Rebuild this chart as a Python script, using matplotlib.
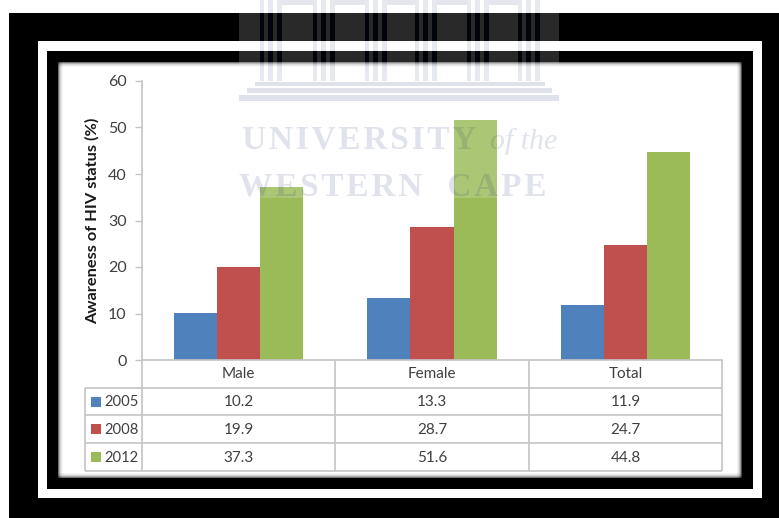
import matplotlib
matplotlib.use("Agg")
import matplotlib.pyplot as plt
import numpy as np
from matplotlib.patches import Rectangle

plt.rcParams['font.family'] = ['Lato', 'DejaVu Sans']

categories = ["Male", "Female", "Total"]
years = ["2005", "2008", "2012"]
values_2005 = [10.2, 13.3, 11.9]
values_2008 = [19.9, 28.7, 24.7]
values_2012 = [37.3, 51.6, 44.8]
y_ticks = [0, 10, 20, 30, 40, 50, 60]
y_label = "Awareness of HIV status (%)"
watermark_lines = ["UNIVERSITY", "WESTERN  CAPE"]
watermark_tail = "of the"

series = [values_2005, values_2008, values_2012]
colors = ["#4f81bd", "#c0504d", "#9bbb59"]
TEXT = "#404040"
GRID = "#c4c4c4"
W, H = 779, 518

fig = plt.figure(figsize=(W / 100, H / 100), dpi=100, facecolor="white")


def pixel_axes(z):
    """Full-figure axes addressed in image pixels, y growing downward."""
    a = fig.add_axes([0, 0, 1, 1], zorder=z)
    a.set_xlim(0, W)
    a.set_ylim(H, 0)
    a.axis("off")
    a.patch.set_alpha(0)
    return a


def box(a, x0, y0, x1, y1, **kw):
    kw.setdefault("linewidth", 0)
    a.add_patch(Rectangle((x0, y0), x1 - x0, y1 - y0, **kw))


def tracked(s):
    """Open up the letter spacing with hair spaces."""
    return "\u200a".join(s)


# Nested picture frame with a soft inner shadow
bg = pixel_axes(0)
box(bg, 9, 13, 779, 518, facecolor="black")
box(bg, 38, 41, 762, 498, facecolor="white")
box(bg, 47, 51, 753, 489, facecolor="black")
box(bg, 58, 62, 742, 478, facecolor="white")
x0, y0, x1, y1 = 58, 62, 742, 478
for i, a_ in enumerate([0.55, 0.32, 0.17, 0.09, 0.04]):
    box(bg, x0 + i, y0, x0 + i + 1, y1, facecolor="black", alpha=a_)
    box(bg, x1 - i - 1, y0, x1 - i, y1, facecolor="black", alpha=min(a_ * 1.25, 1))
    box(bg, x0, y0 + i, x1, y0 + i + 1, facecolor="black", alpha=a_)
    box(bg, x0, y1 - i - 1, x1, y1 - i, facecolor="black", alpha=a_)

# Bars on a value axis
ax = fig.add_axes([142 / W, 1 - 360 / H, 580 / W, 279 / H], zorder=1)
ax.patch.set_alpha(0)
pos = np.arange(len(categories)) + 0.5
bar_w = 0.2225
for i, (vals, col) in enumerate(zip(series, colors)):
    ax.bar(pos + (i - 1) * bar_w, vals, bar_w, color=col, linewidth=0)
ax.set_xlim(0, len(categories))
ax.set_ylim(0, 60)
ax.set_yticks(y_ticks)
ax.set_xticks([])
for s in ("top", "right"):
    ax.spines[s].set_visible(False)
for s in ("left", "bottom"):
    ax.spines[s].set_color(GRID)
    ax.spines[s].set_linewidth(1.2)
ax.tick_params(axis="y", length=5, width=1, color=GRID, labelcolor=TEXT, labelsize=11.5, pad=6)
ax.set_ylabel(y_label, fontsize=11.8, fontweight="bold", color="#1a1a1a", labelpad=6)

# Data table below the axis
fg = pixel_axes(2)
col_x = [142, 335.5, 529, 722]
row_y = [360, 388, 415, 443, 471]
lw = 1.2
for x in col_x:
    fg.plot([x, x], [row_y[0], row_y[-1]], color=GRID, lw=lw, solid_capstyle="butt")
fg.plot([85.5, 85.5], [row_y[1], row_y[-1]], color=GRID, lw=lw, solid_capstyle="butt")
for y in row_y[1:]:
    fg.plot([85.5, col_x[-1]], [y, y], color=GRID, lw=lw, solid_capstyle="butt")
for c, name in enumerate(categories):
    xc = (col_x[c] + col_x[c + 1]) / 2
    fg.text(xc, (row_y[0] + row_y[1]) / 2 - 0.5, name, ha="center", va="center",
            fontsize=11, color=TEXT)
    for r, vals in enumerate(series):
        fg.text(xc, (row_y[r + 1] + row_y[r + 2]) / 2 + 0.5, f"{vals[c]:.1f}", ha="center",
                va="center", fontsize=11, color=TEXT)
for r, (yr, col) in enumerate(zip(years, colors)):
    yc = (row_y[r + 1] + row_y[r + 2]) / 2
    box(fg, 91.5, yc - 5, 101.5, yc + 5, facecolor=col)
    fg.text(104, yc + 0.5, yr, ha="left", va="center", fontsize=10.6, color=TEXT)

# Translucent crest laid over the top of the page
INK = "#1a2a6e"
INK_A = 0.17
VEIL_A = 0.165
mark_x0, mark_x1, mark_y1 = 239, 559, 198
strokes = []
for left in (260, 313, 365, 415, 467, 518):
    strokes += [(left, left + 4), (left + 8, left + 13), (left + 17, left + 22)]
edges = [mark_x0]
for a_, b_ in strokes:
    edges += [a_, b_]
edges.append(mark_x1)
# the veil skips the column strokes so that they read dark over the black frame
for a_, b_ in zip(edges[0::2], edges[1::2]):
    box(fg, a_, 0, b_, 82, facecolor="white", alpha=VEIL_A, antialiased=False)
box(fg, mark_x0, 82, mark_x1, mark_y1, facecolor="white", alpha=VEIL_A, antialiased=False)
for a_, b_ in strokes:
    box(fg, a_, 0, b_, 81, facecolor=INK, alpha=INK_A * 0.6, antialiased=False)
for a_, b_ in zip(strokes[2::3], strokes[3::3]):
    box(fg, a_[1], 0, b_[0], 5, facecolor=INK, alpha=INK_A * 0.7)
for sx0, sx1, sy0, sy1 in [(255, 545, 82, 86), (247, 552, 88, 93), (239, 559, 95, 101)]:
    box(fg, sx0, sy0, sx1, sy1, facecolor=INK, alpha=INK_A * 0.8)
fg.text(242, 140, tracked(watermark_lines[0]), family=["Liberation Serif", "DejaVu Serif"], fontweight="bold",
        fontsize=24, color=INK, alpha=0.13, ha="left", va="center")
fg.text(490, 142, watermark_tail, family="Liberation Serif", style="italic", fontsize=21.5,
        color=INK, alpha=0.13, ha="left", va="center")
fg.text(239, 187, tracked(watermark_lines[1]), family=["Liberation Serif", "DejaVu Serif"], fontweight="bold",
        fontsize=24, color=INK, alpha=0.13, ha="left", va="center")

fig.savefig("out.png", dpi=100, facecolor="white")
